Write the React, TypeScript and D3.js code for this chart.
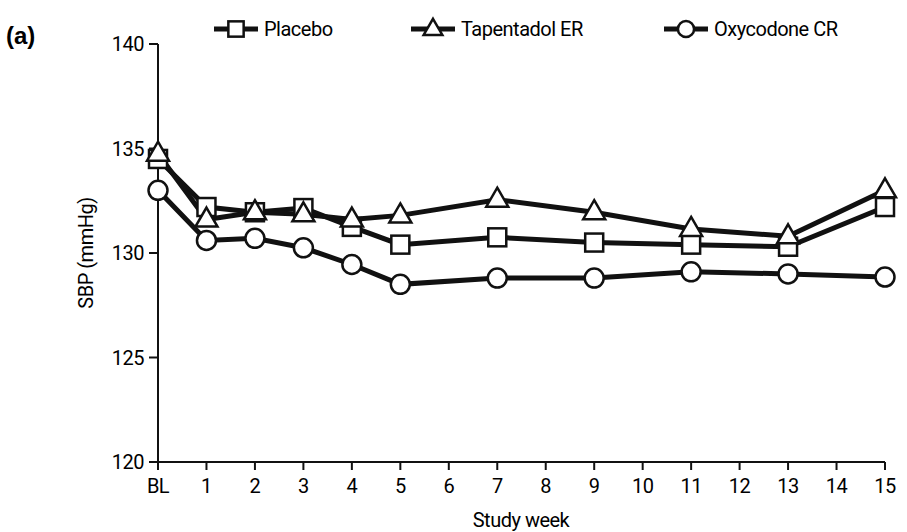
import React from "react";
import * as d3 from "d3";

const weeks = ["BL","1","2","3","4","5","6","7","8","9","10","11","12","13","14","15"];
const obsWeeks = [0,1,2,3,4,5,7,9,11,13,15];
const placebo = [134.5,132.2,131.95,132.15,131.25,130.4,130.75,130.5,130.4,130.3,132.2];
const tapentadol = [134.75,131.6,131.95,131.85,131.6,131.8,132.55,131.95,131.15,130.8,133.0];
const oxycodone = [133.0,130.6,130.7,130.25,129.45,128.5,128.8,128.8,129.1,129.0,128.85];
const yTicks = [120,125,130,135,140];
const seriesNames = ["Placebo","Tapentadol ER","Oxycodone CR"];

const font = "Roboto, 'Liberation Sans', sans-serif";

function Marker({ kind, x, y, s = 1 }: { kind: string; x: number; y: number; s?: number }) {
  const st = { fill: "#fff", stroke: "#111", strokeWidth: 2.5 };
  if (kind === "square") return <rect x={x - 9 * s} y={y - 9 * s} width={18 * s} height={18 * s} {...st} />;
  if (kind === "triangle") return <path d={`M${x},${y - 12 * s} L${x + 11 * s},${y + 7 * s} L${x - 11 * s},${y + 7 * s} Z`} {...st} />;
  return <circle cx={x} cy={y} r={9.5 * s} {...st} />;
}

export default function App() {
  const x = d3.scaleLinear().domain([0, 15]).range([158, 885]);
  const y = d3.scaleLinear().domain([120, 140]).range([462, 44]);
  const series = [
    { name: seriesNames[0], kind: "square", data: placebo },
    { name: seriesNames[1], kind: "triangle", data: tapentadol },
    { name: seriesNames[2], kind: "circle", data: oxycodone },
  ];
  const line = d3.line<number>().x((_, i) => x(obsWeeks[i])).y((d) => y(d));
  const legendX = [236, 433, 686];
  return (
    <svg width={907} height={532} style={{ position: "absolute", left: 0, top: 0 }} fontFamily={font}>
      <rect width={907} height={532} fill="#fff" />
      <text x={6} y={44} fontSize={24} fontWeight="bold" fontFamily="'Liberation Sans', Arial, sans-serif">(a)</text>
      <line x1={158} x2={158} y1={44} y2={462} stroke="#111" strokeWidth={2} />
      <line x1={158} x2={885} y1={462} y2={462} stroke="#111" strokeWidth={2} />
      {yTicks.map((t) => (
        <g key={t}>
          <line x1={149} x2={158} y1={y(t)} y2={y(t)} stroke="#111" strokeWidth={2} />
          <text x={144} y={y(t) + 7} textAnchor="end" fontSize={20} letterSpacing={-0.5}>{t}</text>
        </g>
      ))}
      {weeks.map((w, i) => (
        <g key={w}>
          <line x1={x(i)} x2={x(i)} y1={462} y2={470} stroke="#111" strokeWidth={2} />
          <text x={x(i)} y={493} textAnchor="middle" fontSize={20} letterSpacing={-0.5}>{w}</text>
        </g>
      ))}
      <text x={521} y={527} textAnchor="middle" fontSize={20} letterSpacing={-0.5}>Study week</text>
      <text transform={`translate(93,253) rotate(-90)`} textAnchor="middle" fontSize={20} letterSpacing={-0.5}>SBP (mmHg)</text>
      {series.map((s) => (
        <path key={s.name} d={line(s.data) || ""} fill="none" stroke="#111" strokeWidth={5} />
      ))}
      {series.map((s) =>
        s.data.map((v, i) => <Marker key={s.name + i} kind={s.kind} x={x(obsWeeks[i])} y={y(v)} />)
      )}
      {series.map((s, i) => (
        <g key={"lg" + s.name}>
          <line x1={legendX[i] - 22} x2={legendX[i] + 22} y1={29} y2={29} stroke="#111" strokeWidth={5} />
          <Marker kind={s.kind} x={legendX[i]} y={29} s={0.85} />
          <text x={legendX[i] + 28} y={36} fontSize={20} letterSpacing={-0.5}>{s.name}</text>
        </g>
      ))}
    </svg>
  );
}
